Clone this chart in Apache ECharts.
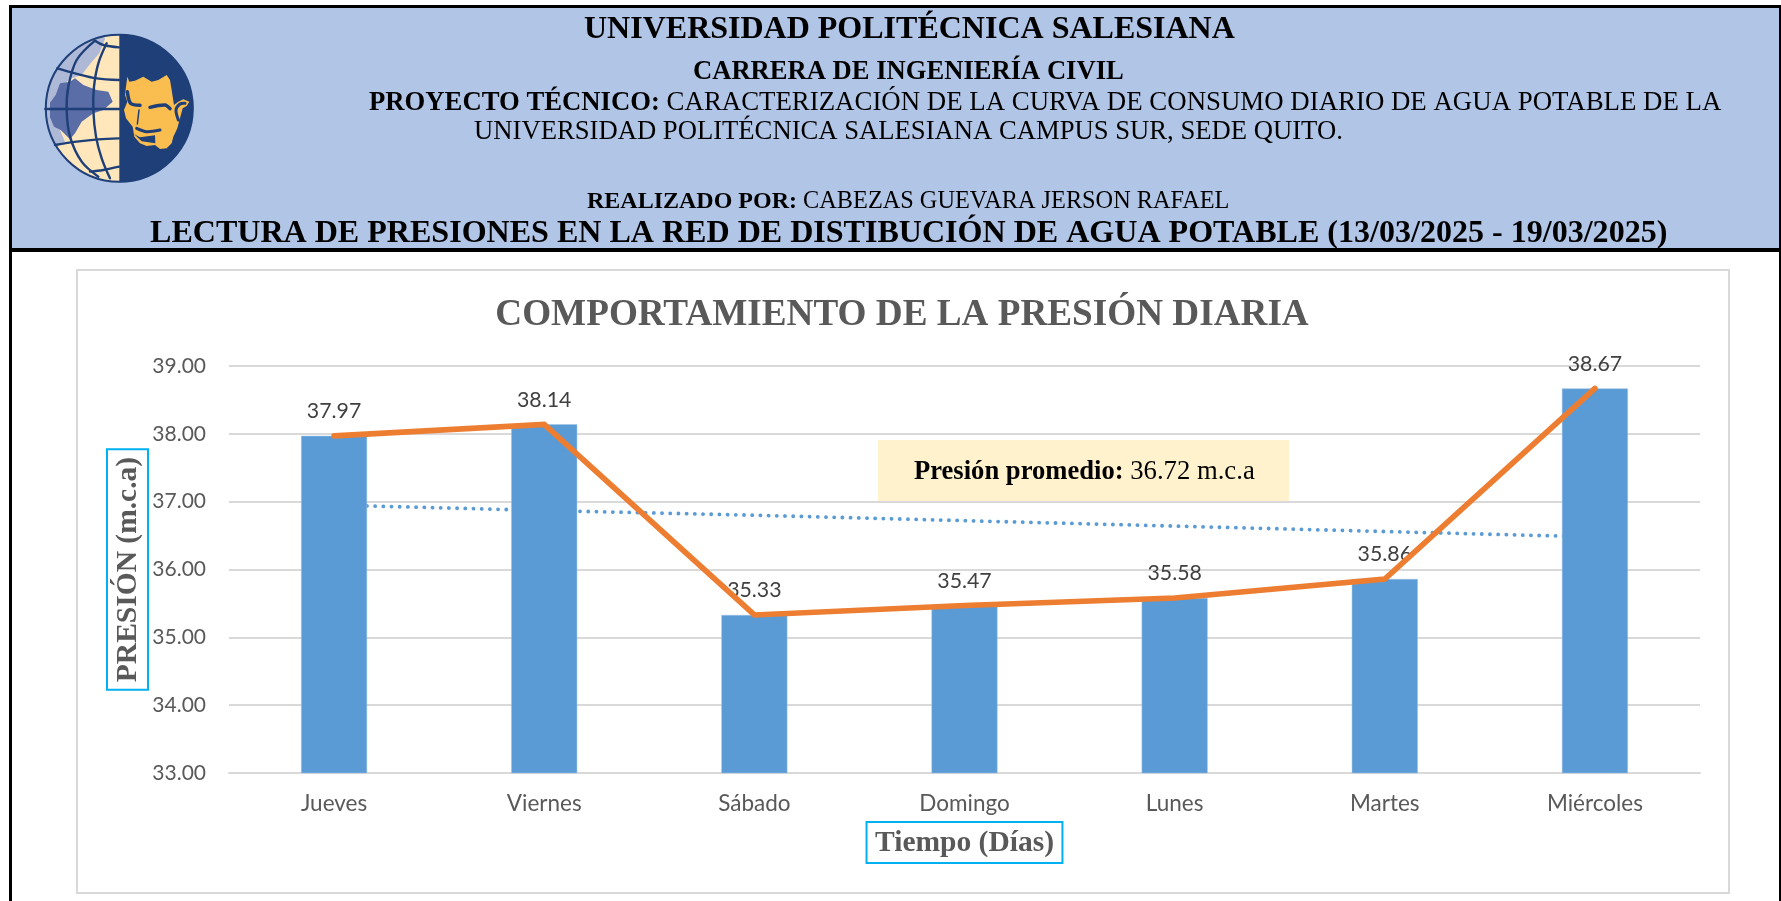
<!DOCTYPE html>
<html><head><meta charset="utf-8">
<style>html,body{margin:0;padding:0;background:#fff}#c{width:1781px;height:901px}</style>
<script src="https://cdn.jsdelivr.net/npm/echarts@6/dist/echarts.min.js"></script>
</head><body><div id="c"></div>
<script>
const dias = ['Jueves','Viernes','Sábado','Domingo','Lunes','Martes','Miércoles'];
const presion = [37.97,38.14,35.33,35.47,35.58,35.86,38.67];
const tendencia = [36.95,36.87,36.80,36.72,36.64,36.56,36.48];
const tituloGrafico = 'COMPORTAMIENTO DE LA PRESIÓN DIARIA';
const promedio = '36.72 m.c.a';

const SERIF = '"Liberation Serif","Times New Roman",serif';
const SANS = 'Lato,Carlito,Calibri,sans-serif';
const rect = (x,y,w,h,fill,z) => ({type:'rect',z:z,silent:true,shape:{x,y,width:w,height:h},style:{fill}});
const line = (spec) => ({type:'text',z:20,silent:true,x:spec.x,y:spec.y,style:{
  text:spec.text,verticalAlign:'middle',align:'left',rich:{
    b:{fontFamily:SERIF,fontWeight:'bold',fontSize:spec.bs,fill:'#000',color:'#000'},
    r:{fontFamily:SERIF,fontWeight:'normal',fontSize:spec.rs||spec.bs,fill:'#000',color:'#000'}
  }}});

// logo, sketched in the coordinates of a 3x crop at (40,30)
const L = p => p.map(q=>[q[0]/3+40,q[1]/3+30]);
const poly = (pts,fill,z) => ({type:'polygon',z:z||12,silent:true,shape:{points:L(pts)},style:{fill}});
const NAVY='#1F3F78';
const pl = (pts,w,z,smooth) => ({type:'polyline',z:z||15,silent:true,shape:{points:L(pts),smooth:smooth===undefined?0.35:smooth},style:{stroke:NAVY,fill:null,lineWidth:w||2.4,lineCap:'round'}});
const onCircle = deg => [238+221*Math.cos(deg*Math.PI/180),235+221*Math.sin(deg*Math.PI/180)];
const arcPts = (a,b,n) => Array.from({length:n+1},(_,i)=>onCircle(a+(b-a)*i/n));
const logo = [
  {type:'circle',z:11,silent:true,shape:{cx:119.3,cy:108.3,r:74},style:{fill:'#FFE7BB'}},
  poly([[195,27],[178,70],[152,100],[125,135],[95,145],[60,170],[60,300],[75,335],[50,345]].concat(arcPts(150,258,16)),'#AEB9D8',12),
  poly([[60,160],[90,155],[105,145],[130,165],[170,180],[205,185],[218,215],[190,240],[160,250],[125,275],[105,310],[90,328],[62,300],[42,290],[30,262],[30,218],[47,195]],'#5A6DA6',13),
  {type:'sector',z:14,silent:true,shape:{cx:119.3,cy:108.3,r:74,r0:0,startAngle:-Math.PI/2,endAngle:Math.PI/2},style:{fill:NAVY}},
  pl([[16,237],[238,237]],2.4,15,0),
  pl([[52,115],[105,130],[170,145],[237,150]]),
  pl([[45,345],[110,335],[175,328],[237,325]]),
  pl([[165,32],[190,45],[237,52]]),
  pl([[150,425],[190,420],[237,410]]),
  pl([[165,32],[110,90],[85,170],[80,240],[90,320],[125,395],[175,440]]),
  pl([[200,40],[175,100],[162,170],[160,240],[168,320],[185,385],[210,445]]),
  {type:'circle',z:15,silent:true,shape:{cx:119.3,cy:108.3,r:73.5},style:{fill:null,stroke:NAVY,lineWidth:2}},
  poly([[262,140],[268,155],[285,152],[310,140],[335,155],[355,150],[380,135],[390,150],[395,180],[402,225],[415,215],[430,208],[448,215],[440,228],[428,235],[420,265],[412,295],[400,320],[395,340],[380,355],[360,357],[345,345],[320,348],[300,340],[283,320],[278,290],[258,265],[252,240],[262,215],[255,195],[258,170]],'#F9BE4F',16),
  pl([[262,185],[272,220],[300,226]],3.5,17,0.3),
  pl([[330,232],[375,225],[390,236]],3.5,17,0.3),
  pl([[297,240],[292,282]],1.5,17,0.2),
  pl([[290,295],[320,305],[360,300]],3,17,0.3),
  poly([[282,312],[300,322],[345,316],[346,340],[305,334]],NAVY,17),
  pl([[415,270],[408,240],[420,222],[435,220]],3,17,0.3)
];

const graphics = [
  rect(9,5,1772,3,'#000',5),
  rect(9,5,3,896,'#000',5),
  rect(1779,5,2,896,'#000',5),
  rect(9,248,1772,4,'#000',5),
  rect(12,8,1767,240,'#B1C5E7',4),
  {type:'rect',z:1,silent:true,shape:{x:77,y:270,width:1652,height:623},style:{fill:'none',stroke:'#D9D9D9',lineWidth:2}},
  rect(878,440,411,61,'#FFF2CC',9),
  line({x:584,y:30,text:'{b|UNIVERSIDAD POLITÉCNICA SALESIANA}',bs:32}),
  line({x:693,y:72,text:'{b|CARRERA DE INGENIERÍA CIVIL}',bs:26.6}),
  line({x:369,y:103,text:'{b|PROYECTO TÉCNICO:}{r| CARACTERIZACIÓN DE LA CURVA DE CONSUMO DIARIO DE AGUA POTABLE DE LA}',bs:26.7,rs:26.85}),
  line({x:474,y:132,text:'{r|UNIVERSIDAD POLITÉCNICA SALESIANA CAMPUS SUR, SEDE QUITO.}',bs:26.67}),
  line({x:587,y:202,text:'{b|REALIZADO POR:}{r| CABEZAS GUEVARA JERSON RAFAEL}',bs:24,rs:24.3}),
  line({x:150,y:234,text:'{b|LECTURA DE PRESIONES EN LA RED DE DISTIBUCIÓN DE AGUA POTABLE (13/03/2025 - 19/03/2025)}',bs:32.05}),
  {type:'text',z:20,silent:true,x:902,y:315,style:{text:tituloGrafico,align:'center',verticalAlign:'middle',fontFamily:SERIF,fontWeight:'bold',fontSize:37.2,fill:'#595959'}},
  line({x:914,y:472,text:'{b|Presión promedio:}{r| '+promedio+'}',bs:26.6,rs:26.7})
].concat(logo);

const nameX = {fontFamily:SERIF,fontWeight:'bold',fontSize:29.5,color:'#595959',borderColor:'#00B0F0',borderWidth:2,padding:[6,8.5,5,8.5]};
const nameY = {fontFamily:SERIF,fontWeight:'bold',fontSize:29.5,color:'#595959',borderColor:'#00B0F0',borderWidth:2,padding:[6,7.5,5,7.5]};
const chart = echarts.init(document.getElementById('c'),null,{renderer:'canvas'});
chart.setOption({
  animation:false,
  backgroundColor:'#fff',
  graphic:{elements:graphics},
  grid:{left:229,right:81,top:366,bottom:128,containLabel:false},
  xAxis:{type:'category',data:dias,
    axisTick:{show:false},
    axisLine:{lineStyle:{color:'#D9D9D9',width:2}},
    axisLabel:{fontFamily:SANS,fontSize:22.5,color:'#595959',margin:19},
    name:'Tiempo (Días)',nameLocation:'middle',nameGap:49,nameMoveOverlap:false,
    nameTextStyle:nameX},
  yAxis:{type:'value',min:33,max:39,interval:1,
    axisLine:{show:false},axisTick:{show:false},
    splitLine:{lineStyle:{color:'#D9D9D9',width:2}},
    axisLabel:{fontFamily:SANS,fontSize:21,color:'#595959',margin:23,formatter:v=>v.toFixed(2)},
    name:'PRESIÓN (m.c.a)',nameLocation:'middle',nameGap:81,nameMoveOverlap:false,
    nameTextStyle:nameY},
  series:[
    {name:'Tendencia',type:'line',data:tendencia,z:2,symbol:'none',silent:true,
      lineStyle:{color:'#5B9BD5',width:3.8,type:[0.1,8.1],cap:'round'}},
    {name:'Presión',type:'bar',data:presion,z:3,barWidth:66,
      itemStyle:{color:'#5B9BD5',borderColor:'#9DC3E6',borderWidth:0.5},
      label:{show:true,position:'top',distance:14,fontFamily:SANS,fontSize:21.3,color:'#404040',formatter:p=>p.value.toFixed(2)}},
    {name:'Línea',type:'line',data:presion,z:4,symbol:'none',silent:true,
      lineStyle:{color:'#ED7D31',width:5.6,cap:'round',join:'miter'}}
  ]
});
</script></body></html>
